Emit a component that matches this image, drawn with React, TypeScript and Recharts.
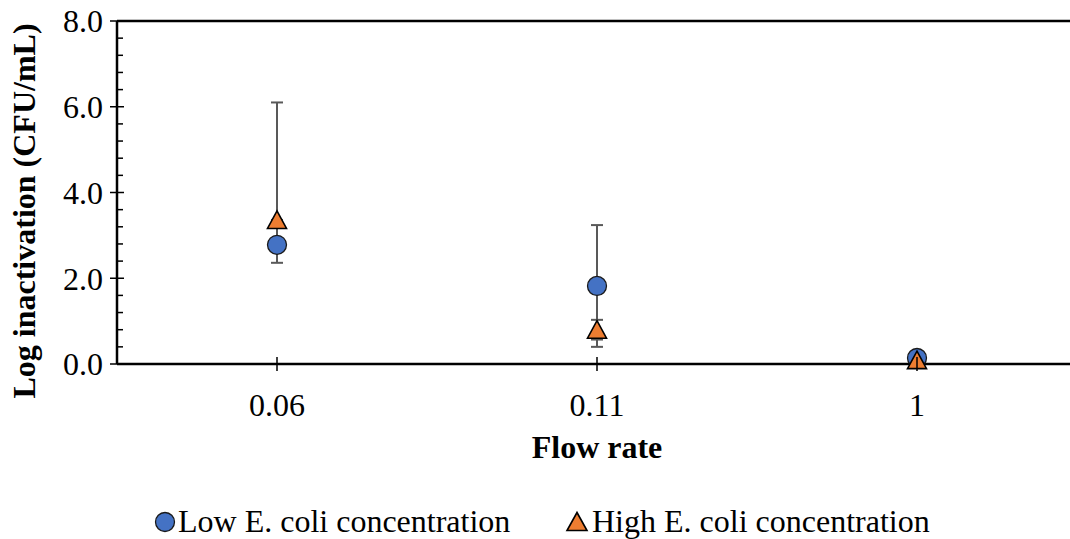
import { ComposedChart, Scatter, XAxis, YAxis, ErrorBar, ReferenceLine, Legend } from 'recharts';

// Flow rate categories and log inactivation values
const flowRates = ['0.06', '0.11', '1'];
const lowConc = [2.78, 1.82, 0.14];
const lowErr: ([number, number] | null)[] = [[0.42, 0.42], [1.42, 1.42], null];
const highConc = [3.36, 0.8, 0.09];
const highErr: ([number, number] | null)[] = [[0, 2.74], [0.23, 0.23], null];
const majorTicks = [0, 2, 4, 6, 8];
const yTicks = [0, 0.4, 0.8, 1.2, 1.6, 2, 2.4, 2.8, 3.2, 3.6, 4, 4.4, 4.8, 5.2, 5.6, 6, 6.4, 6.8, 7.2, 7.6, 8];
const seriesNames = ['Low E. coli concentration', 'High E. coli concentration'];

const FONT = '"Liberation Serif", "Times New Roman", serif';
const BLUE = '#4472C4';
const ORANGE = '#ED7D31';

const data = flowRates.map((f, i) => ({
  flow: f,
  low: lowConc[i],
  lowErr: lowErr[i],
  high: highConc[i],
  highErr: highErr[i],
}));

const CircleDot = (props: any) => (
  <circle cx={props.cx} cy={props.cy} r={9.5} fill={BLUE} stroke="#1a1a1a" strokeWidth={1.3} />
);

const TriangleDot = (props: any) => {
  const { cx, cy } = props;
  return (
    <polygon
      points={`${cx},${cy - 9} ${cx + 9.5},${cy + 8.5} ${cx - 9.5},${cy + 8.5}`}
      fill={ORANGE}
      stroke="#000"
      strokeWidth={1.6}
      strokeLinejoin="miter"
    />
  );
};

const Y_TICK_MARGIN = 14;
const YTick = (props: any) => {
  const { x, y, payload } = props;
  const axisX = x + Y_TICK_MARGIN;
  const isMajor = majorTicks.includes(payload.value);
  if (!isMajor) {
    return <line x1={axisX} x2={axisX + 6} y1={y} y2={y} stroke="#000" strokeWidth={1.5} />;
  }
  return (
    <g>
      <line x1={axisX - 7} x2={axisX + 7} y1={y} y2={y} stroke="#000" strokeWidth={1.5} />
      <text x={x} y={y} dy="0.355em" textAnchor="end" fontFamily={FONT} fontSize={32} fill="#000">
        {payload.value.toFixed(1)}
      </text>
    </g>
  );
};

const X_TICK_MARGIN = 29;
const XTick = (props: any) => {
  const { x, y, payload } = props;
  const axisY = y - X_TICK_MARGIN;
  return (
    <g>
      <line x1={x} x2={x} y1={axisY - 7} y2={axisY + 7} stroke="#000" strokeWidth={1.5} />
      <text x={x} y={y} dy="0.71em" textAnchor="middle" fontFamily={FONT} fontSize={32} fill="#000">
        {payload.value}
      </text>
    </g>
  );
};

const LegendContent = () => (
  <svg width={1070} height={40} style={{ display: 'block' }}>
    <circle cx={165} cy={19} r={9.5} fill={BLUE} stroke="#1a1a1a" strokeWidth={1.3} />
    <text x={178} y={29} fontFamily={FONT} fontSize={32} fill="#000">{seriesNames[0]}</text>
    <polygon points="577,9.5 587,27.5 567,27.5" fill={ORANGE} stroke="#000" strokeWidth={1.6} />
    <text x={592} y={29} fontFamily={FONT} fontSize={32} fill="#000">{seriesNames[1]}</text>
  </svg>
);

export default function App() {
  return (
    <div style={{ position: 'absolute', left: 0, top: 0, width: 1070, height: 539, overflow: 'hidden', background: '#fff' }}>
      <ComposedChart width={1080} height={539} data={data} margin={{ top: 21, right: 3, left: 0, bottom: 0 }}>
        <XAxis
          dataKey="flow"
          type="category"
          scale="band"
          height={175}
          axisLine={{ stroke: '#000', strokeWidth: 2.5 }}
          tickLine={false}
          tickSize={0}
          tickMargin={X_TICK_MARGIN}
          tick={<XTick />}
          interval={0}
          label={{
            content: () => (
              <text x={597} y={458} textAnchor="middle" fontFamily={FONT} fontSize={32} fontWeight="bold" fill="#000">
                Flow rate
              </text>
            ),
          }}
        />
        <YAxis
          domain={[0, 8]}
          ticks={yTicks}
          interval={0}
          width={117}
          axisLine={{ stroke: '#000', strokeWidth: 2.5 }}
          tickLine={false}
          tickSize={0}
          tickMargin={Y_TICK_MARGIN}
          tick={<YTick />}
          label={{
            content: () => (
              <text
                x={35}
                y={211}
                transform="rotate(-90 35 211)"
                textAnchor="middle"
                fontFamily={FONT}
                fontSize={32}
                fontWeight="bold"
                fill="#000"
              >
                Log inactivation (CFU/mL)
              </text>
            ),
          }}
        />
        <ReferenceLine y={8} stroke="#000" strokeWidth={2.5} />
        <Legend
          layout="horizontal"
          verticalAlign="middle"
          align="center"
          wrapperStyle={{ top: 503, left: 0, width: 1070 }}
          content={<LegendContent />}
        />
        <Scatter name={seriesNames[0]} dataKey="low" shape={<CircleDot />} isAnimationActive={false}>
          <ErrorBar dataKey="lowErr" direction="y" width={6} stroke="#595959" strokeWidth={2} />
        </Scatter>
        <Scatter name={seriesNames[1]} dataKey="high" shape={<TriangleDot />} isAnimationActive={false}>
          <ErrorBar dataKey="highErr" direction="y" width={6} stroke="#595959" strokeWidth={2} />
        </Scatter>
      </ComposedChart>
    </div>
  );
}
